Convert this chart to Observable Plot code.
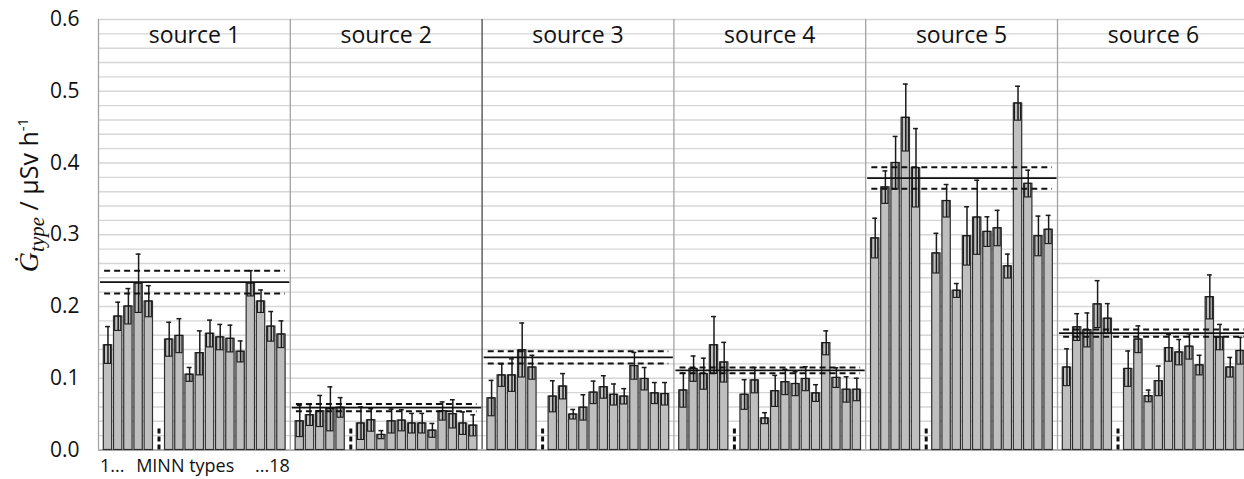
<!DOCTYPE html>
<html>
<head>
<meta charset="utf-8">
<script src="https://cdn.jsdelivr.net/npm/d3@7"></script>
<script src="https://cdn.jsdelivr.net/npm/@observablehq/plot@0.6"></script>
<style>
  html, body { margin: 0; padding: 0; background: #fff; overflow: hidden; }
  #chart { width: 1244px; height: 479px; }
</style>
</head>
<body>
<div id="chart"></div>
<script>
// ---------- data ----------
const sources = ["source 1", "source 2", "source 3", "source 4", "source 5", "source 6"];
const types = [1, 2, 3, 4, 5, 6, 7, 8, 9, 10, 11, 12, 13, 14, 15, 16, 17, 18];
const missingType = 6;

const values1 = [0.146, 0.186, 0.200, 0.232, 0.207, null, 0.154, 0.159, 0.105, 0.135, 0.162, 0.157, 0.155, 0.137, 0.232, 0.207, 0.172, 0.161];
const errors1 = [0.026, 0.020, 0.025, 0.041, 0.022, null, 0.024, 0.024, 0.010, 0.031, 0.019, 0.018, 0.019, 0.015, 0.018, 0.016, 0.021, 0.019];
const values2 = [0.040, 0.0485, 0.054, 0.057, 0.059, null, 0.037, 0.0415, 0.021, 0.040, 0.041, 0.037, 0.037, 0.027, 0.054, 0.050, 0.037, 0.034];
const errors2 = [0.022, 0.015, 0.022, 0.031, 0.014, null, 0.023, 0.016, 0.006, 0.017, 0.015, 0.014, 0.014, 0.010, 0.013, 0.020, 0.016, 0.015];
const values3 = [0.072, 0.104, 0.104, 0.139, 0.115, null, 0.0745, 0.0885, 0.0495, 0.059, 0.080, 0.0875, 0.077, 0.0745, 0.117, 0.099, 0.079, 0.078];
const errors3 = [0.025, 0.016, 0.023, 0.038, 0.017, null, 0.022, 0.018, 0.007, 0.018, 0.016, 0.016, 0.015, 0.011, 0.019, 0.016, 0.015, 0.016];
const values4 = [0.083, 0.113, 0.106, 0.146, 0.122, null, 0.077, 0.097, 0.044, 0.082, 0.0945, 0.092, 0.099, 0.079, 0.149, 0.1005, 0.084, 0.084];
const errors4 = [0.024, 0.018, 0.022, 0.040, 0.028, null, 0.021, 0.018, 0.008, 0.022, 0.018, 0.017, 0.017, 0.012, 0.017, 0.014, 0.018, 0.016];
const values5 = [0.295, 0.366, 0.400, 0.463, 0.393, null, 0.274, 0.347, 0.222, 0.298, 0.324, 0.304, 0.309, 0.256, 0.483, 0.371, 0.298, 0.307];
const errors5 = [0.028, 0.023, 0.037, 0.047, 0.055, null, 0.028, 0.023, 0.010, 0.041, 0.052, 0.021, 0.025, 0.017, 0.024, 0.019, 0.028, 0.020];
const values6 = [0.115, 0.171, 0.167, 0.203, 0.183, null, 0.113, 0.154, 0.075, 0.096, 0.142, 0.136, 0.144, 0.118, 0.213, 0.157, 0.115, 0.138];
const errors6 = [0.026, 0.019, 0.024, 0.033, 0.021, null, 0.025, 0.019, 0.0085, 0.021, 0.019, 0.018, 0.018, 0.014, 0.031, 0.018, 0.014, 0.019];

const means   = [0.234, 0.059, 0.129, 0.111, 0.379, 0.163];
const meanUnc = [0.016, 0.005, 0.0085, 0.004, 0.015, 0.005];

const yTicks = [0, 0.1, 0.2, 0.3, 0.4, 0.5, 0.6];
const xLabelParts = ["1...", "MINN types", "...18"];

// ---------- layout helpers (panel units on a linear x scale) ----------
const P = 18.8;     // width of one source panel in slot units
const OFF = 0.93;   // center of first slot from panel edge
const allValues = [values1, values2, values3, values4, values5, values6];
const allErrors = [errors1, errors2, errors3, errors4, errors5, errors6];

const rows = [];
sources.forEach((src, s) => {
  types.forEach((t, i) => {
    const v = allValues[s][i];
    if (v == null) return;
    rows.push({source: src, s, type: t, value: v, err: allErrors[s][i], xc: s * P + OFF + (t - 1)});
  });
});
const panels = sources.map((src, s) => ({source: src, s, mean: means[s], unc: meanUnc[s]}));
const gaps = sources.map((src, s) => ({s, xc: s * P + OFF + (missingType - 1)}));
const grid = d3.range(0, 31).map(i => +(i * 0.02).toFixed(2));

const plot = Plot.plot({
  width: 1244,
  height: 479,
  marginLeft: 98,
  marginRight: 0,
  marginTop: 19,
  marginBottom: 29.5,
  style: {fontFamily: "'Open Sans', sans-serif", color: "#1a1a1a", background: "#fff"},
  x: {type: "linear", domain: [0, 6 * P], range: [98, 1248.8], axis: null},
  y: {domain: [0, 0.6], axis: null},
  marks: [
    Plot.ruleY(grid, {stroke: "#d6d6d6", strokeWidth: 1.4}),
    Plot.ruleX(panels.filter(d => d.s !== 2), {x: d => d.s * P, y1: 0, y2: 0.6, stroke: "#a3a3a3", strokeWidth: 1.3}),
    Plot.ruleX(panels.filter(d => d.s === 2), {x: d => d.s * P, y1: 0, y2: 0.6, stroke: "#4a4a4a", strokeWidth: 1.3}),
    Plot.ruleY([0], {stroke: "#a3a3a3", strokeWidth: 1.3}),
    // bars
    Plot.rect(rows, {x1: d => d.xc - 0.41, x2: d => d.xc + 0.41, y1: 0, y2: "value",
      fill: "#bfbfbf", stroke: "#2e2e2e", strokeWidth: 1.2}),
    // uncertainty boxes
    Plot.rect(rows, {x1: d => d.xc - 0.3, x2: d => d.xc + 0.3, y1: d => d.value - d.err, y2: "value",
      fill: "none", stroke: "#1a1a1a", strokeWidth: 1.1}),
    // whiskers
    Plot.ruleX(rows, {x: "xc", y1: d => d.value - d.err, y2: d => d.value + d.err, stroke: "#1a1a1a", strokeWidth: 1.5}),
    Plot.ruleY(rows, {y: d => d.value + d.err, x1: d => d.xc - 0.24, x2: d => d.xc + 0.24, stroke: "#1a1a1a", strokeWidth: 1.5}),
    // mean and uncertainty lines
    Plot.ruleY(panels, {y: "mean", x1: d => d.s * P + 0.2, x2: d => (d.s + 1) * P - 0.05, stroke: "#111", strokeWidth: 1.8}),
    Plot.ruleY(panels, {y: d => d.mean + d.unc, x1: d => d.s * P + 0.6, x2: d => (d.s + 1) * P - 0.5,
      stroke: "#111", strokeWidth: 2, strokeDasharray: "6,4"}),
    Plot.ruleY(panels, {y: d => d.mean - d.unc, x1: d => d.s * P + 0.6, x2: d => (d.s + 1) * P - 0.5,
      stroke: "#111", strokeWidth: 2, strokeDasharray: "6,4"}),
    // missing-type markers
    Plot.ruleX(gaps, {x: "xc", y1: 0, y2: 0.033, stroke: "#111", strokeWidth: 3, strokeDasharray: "5,3"}),
    // panel titles
    Plot.text(panels, {x: d => d.s * P + P / 2, y: 0.6, dy: 16, text: "source", fontSize: 23, fill: "#111"}),
    // x label under first panel
    Plot.text([xLabelParts[0]], {x: 0.15, y: 0, dy: 16, text: d => d, textAnchor: "start", fontSize: 18, fill: "#111"}),
    Plot.text([xLabelParts[1]], {x: 8.5, y: 0, dy: 16, text: d => d, textAnchor: "middle", fontSize: 18, fill: "#111"}),
    Plot.text([xLabelParts[2]], {x: P - 0.05, y: 0, dy: 16, text: d => d, textAnchor: "end", fontSize: 18, fill: "#111"}),
    // y axis
    Plot.axisY(yTicks, {tickSize: 0, tickPadding: 19, tickFormat: d3.format(".1f"), fontSize: 21, label: null, fill: "#111"})
  ]
});

// y-axis title with sub/superscripts
const svg = d3.select(plot);
const t = svg.append("text")
  .attr("transform", "translate(38,195) rotate(-90)")
  .attr("text-anchor", "middle")
  .attr("font-size", 25)
  .attr("fill", "#111")
  .attr("font-family", "'Open Sans', sans-serif");
t.append("tspan").attr("font-family", "'Liberation Serif', serif").attr("font-style", "italic").attr("font-size", 28).text("Ġ");
t.append("tspan").attr("font-family", "'Liberation Serif', serif").attr("font-style", "italic").attr("font-size", 21).attr("dy", 6).text("type");
t.append("tspan").attr("dy", -6).text(" / µSv h");
t.append("tspan").attr("font-size", 15).attr("dy", -10).text("-1");

document.getElementById("chart").appendChild(plot);
</script>
</body>
</html>
